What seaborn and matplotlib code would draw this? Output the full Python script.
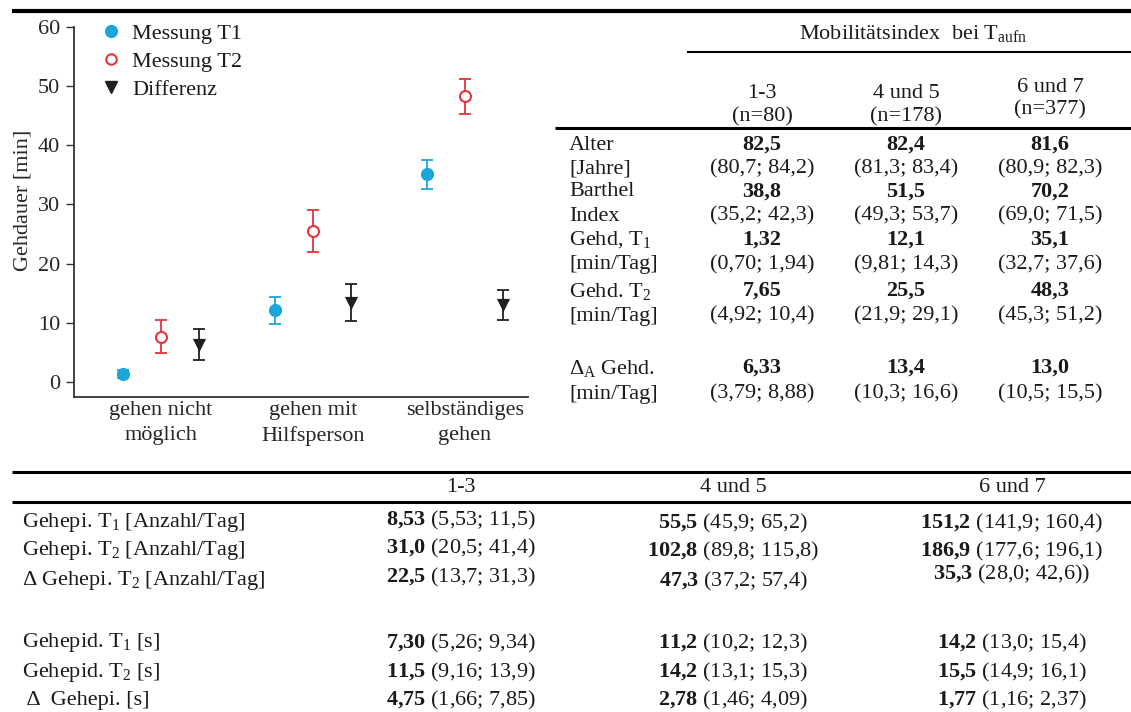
import matplotlib
matplotlib.use("Agg")
import numpy as np
import pandas as pd
import seaborn as sns
import matplotlib.pyplot as plt
from matplotlib.lines import Line2D

# ---------------- data ----------------
categories = ["gehen nicht\nmöglich", "gehen mit\nHilfsperson", "selbständiges\ngehen"]
series_names = ["Messung T1", "Messung T2", "Differenz"]

t1_mean = [1.32, 12.1, 35.1]
t1_lo = [0.70, 9.81, 32.7]
t1_hi = [1.94, 14.3, 37.6]

t2_mean = [7.65, 25.5, 48.3]
t2_lo = [4.92, 21.9, 45.3]
t2_hi = [10.4, 29.1, 51.2]

diff_mean = [6.33, 13.4, 13.0]
diff_lo = [3.79, 10.3, 10.5]
diff_hi = [8.88, 16.6, 15.5]

y_ticks = [0, 10, 20, 30, 40, 50, 60]

# upper-right table
top_header = r"Mobilitätsindex  bei T$_{\mathrm{aufn}}$"
top_cols = ["1-3", "4 und 5", "6 und 7"]
top_ns = ["(n=80)", "(n=178)", "(n=377)"]
top_row_labels = ["Alter", "[Jahre]", "Barthel", "Index",
                  r"Gehd, T$_{\mathrm{1}}$", "[min/Tag]",
                  r"Gehd. T$_{\mathrm{2}}$", "[min/Tag]",
                  r"Δ$_{\mathrm{A}}$ Gehd.", "[min/Tag]"]
top_values = [
    ["82,5", "82,4", "81,6"],
    ["(80,7; 84,2)", "(81,3; 83,4)", "(80,9; 82,3)"],
    ["38,8", "51,5", "70,2"],
    ["(35,2; 42,3)", "(49,3; 53,7)", "(69,0; 71,5)"],
    ["1,32", "12,1", "35,1"],
    ["(0,70; 1,94)", "(9,81; 14,3)", "(32,7; 37,6)"],
    ["7,65", "25,5", "48,3"],
    ["(4,92; 10,4)", "(21,9; 29,1)", "(45,3; 51,2)"],
    ["6,33", "13,4", "13,0"],
    ["(3,79; 8,88)", "(10,3; 16,6)", "(10,5; 15,5)"],
]
top_bold_rows = [True, False, True, False, True, False, True, False, True, False]

# bottom table
bot_cols = ["1-3", "4 und 5", "6 und 7"]
bot_row_labels = [r"Gehepi. T$_{\mathrm{1}}$ [Anzahl/Tag]",
                  r"Gehepi. T$_{\mathrm{2}}$ [Anzahl/Tag]",
                  r"Δ Gehepi. T$_{\mathrm{2}}$ [Anzahl/Tag]",
                  r"Gehepid. T$_{\mathrm{1}}$ [s]",
                  r"Gehepid. T$_{\mathrm{2}}$ [s]",
                  r" Δ  Gehepi. [s]"]
bot_bold = [["8,53", "55,5", "151,2"],
            ["31,0", "102,8", "186,9"],
            ["22,5", "47,3", "35,3"],
            ["7,30", "11,2", "14,2"],
            ["11,5", "14,2", "15,5"],
            ["4,75", "2,78", "1,77"]]
bot_ci = [["(5,53; 11,5)", "(45,9; 65,2)", "(141,9; 160,4)"],
          ["(20,5; 41,4)", "(89,8; 115,8)", "(177,6; 196,1)"],
          ["(13,7; 31,3)", "(37,2; 57,4)", "(28,0; 42,6))"],
          ["(5,26; 9,34)", "(10,2; 12,3)", "(13,0; 15,4)"],
          ["(9,16; 13,9)", "(13,1; 15,3)", "(14,9; 16,1)"],
          ["(1,66; 7,85)", "(1,46; 4,09)", "(1,16; 2,37)"]]

# ---------------- style ----------------
sns.set_theme(style="ticks")
plt.rcParams["font.family"] = ["Liberation Serif", "DejaVu Serif"]
plt.rcParams["mathtext.fontset"] = "custom"
plt.rcParams["mathtext.rm"] = "Liberation Serif"
plt.rcParams["mathtext.it"] = "Liberation Serif:italic"
plt.rcParams["mathtext.bf"] = "Liberation Serif:bold"
plt.rcParams["text.color"] = "#1a1a1a"

W, H = 1131, 712
fig = plt.figure(figsize=(W / 100, H / 100), dpi=100)
FS = 16

def fx(x):
    return x / W

def fy(y):
    return 1 - y / H

C_T1 = "#1BA6DA"
C_T2 = "#E8323C"
C_D = "#231F20"
colors = [C_T1, C_T2, C_D]
offsets = [-0.25, 0.0, 0.25]

# ---------------- chart ----------------
ax = fig.add_axes([fx(74), 1 - 397 / H, 454 / W, 370 / H])

rows = []
for s, (m, lo, hi) in zip(series_names, [(t1_mean, t1_lo, t1_hi),
                                          (t2_mean, t2_lo, t2_hi),
                                          (diff_mean, diff_lo, diff_hi)]):
    for i, cat in enumerate(categories):
        rows.append(dict(series=s, cat=i, mean=m[i], lo=lo[i], hi=hi[i]))
df = pd.DataFrame(rows)
df["x"] = df["cat"] + df["series"].map(dict(zip(series_names, offsets)))

for s, c in zip(series_names, colors):
    sub = df[df["series"] == s]
    ax.errorbar(sub["x"], sub["mean"],
                yerr=[sub["mean"] - sub["lo"], sub["hi"] - sub["mean"]],
                fmt="none", ecolor=c, elinewidth=1.3, capsize=4.5,
                capthick=1.3, zorder=2)

sub = df[df["series"] == "Messung T1"]
sns.scatterplot(data=sub, x="x", y="mean", ax=ax, marker="o", s=90,
                color=C_T1, edgecolor=C_T1, linewidth=0, zorder=3, legend=False)
sub = df[df["series"] == "Messung T2"]
sns.scatterplot(data=sub, x="x", y="mean", ax=ax, marker="o", s=62,
                color="white", zorder=3, legend=False)
coll = ax.collections[-1]
coll.set_facecolor("white")
coll.set_edgecolor(C_T2)
coll.set_linewidth(1.5)
sub = df[df["series"] == "Differenz"]
sns.scatterplot(data=sub, x="x", y="mean", ax=ax, marker="v", s=90,
                color=C_D, edgecolor=C_D, linewidth=0, zorder=3, legend=False)

ax.set_xlim(-0.572, 2.414)
ax.set_ylim(-2.54, 60)
ax.set_yticks(y_ticks)
ax.set_yticklabels([str(t) for t in y_ticks], fontsize=FS)
ax.set_xticks(range(len(categories)))
ax.set_xticklabels(categories, fontsize=FS, linespacing=1.4)
ax.tick_params(axis="x", length=0, pad=3)
ax.tick_params(axis="y", length=6, width=1, pad=4, color="#333333")
for sp in ["left", "bottom"]:
    ax.spines[sp].set_linewidth(1.3)
    ax.spines[sp].set_color("#333333")
sns.despine(ax=ax)
ax.set_xlabel("")
ax.set_ylabel("Gehdauer [min]", fontsize=FS)
ax.yaxis.set_label_coords((33 - 74) / 454, (397 - 200) / 370)

handles = [
    Line2D([], [], ls="none", marker="o", ms=8.5, mfc=C_T1, mec=C_T1),
    Line2D([], [], ls="none", marker="o", ms=7.5, mfc="white", mec=C_T2, mew=1.5),
    Line2D([], [], ls="none", marker="v", ms=8.5, mfc=C_D, mec=C_D),
]
ax.legend(handles, series_names, loc="upper left",
          bbox_to_anchor=(fx(102), fy(23)), bbox_transform=fig.transFigure,
          frameon=False, fontsize=FS, handlelength=0.8, handletextpad=0.55,
          labelspacing=0.34, borderpad=0, borderaxespad=0)

# ---------------- rules ----------------
def hline(y, x0, x1, lw):
    fig.add_artist(Line2D([fx(x0), fx(x1)], [fy(y), fy(y)],
                          transform=fig.transFigure, color="black", lw=lw,
                          solid_capstyle="butt"))

hline(11, 12, 1131, 3.0)
hline(52, 687, 1131, 1.5)
hline(128, 555, 1131, 2.2)
hline(472, 12, 1131, 2.2)
hline(502, 12, 1131, 2.2)

# ---------------- upper-right table ----------------
fig.text(fx(913), fy(33), top_header, ha="center", va="center", fontsize=FS)
top_col_x = [762, 906, 1050]
top_col_y1 = [94, 94, 87]
top_col_y2 = [117, 117, 110]
for cx, y1, y2, c, n in zip(top_col_x, top_col_y1, top_col_y2, top_cols, top_ns):
    fig.text(fx(cx), fy(y1), c, ha="center", va="center", fontsize=FS)
    fig.text(fx(cx), fy(y2), n, ha="center", va="center", fontsize=FS)

top_row_y = [145, 169, 192, 216, 240, 265, 291, 316, 368, 394]
for lab, ry, vals, bold in zip(top_row_labels, top_row_y, top_values, top_bold_rows):
    fig.text(fx(569), fy(ry), lab, ha="left", va="center", fontsize=FS)
    for cx, v in zip(top_col_x, vals):
        fig.text(fx(cx), fy(ry), v, ha="center", va="center", fontsize=FS,
                 fontweight="bold" if bold else "normal")

# ---------------- bottom table ----------------
bot_col_x = [461, 733, 1012]
for cx, c in zip(bot_col_x, bot_cols):
    fig.text(fx(cx), fy(488), c, ha="center", va="center", fontsize=FS)

bot_row_y = [523, 551, 580, 643, 672, 700]
bot_shift = [[-3, 0, 0], [-3, 0, 0], [-3, 1, -6], [0, 0, 0], [0, 0, 0], [0, 0, 0]]
for lab, ry, bvals, cvals, shifts in zip(bot_row_labels, bot_row_y, bot_bold, bot_ci, bot_shift):
    fig.text(fx(22), fy(ry), lab, ha="left", va="center", fontsize=FS)
    for cx, b, ci, sh in zip(bot_col_x, bvals, cvals, shifts):
        txt = r"$\mathbf{" + b.replace(",", "{,}") + r"}$ " + ci
        fig.text(fx(cx), fy(ry + sh), txt, ha="center", va="center", fontsize=FS)

fig.savefig("out.png", dpi=100)
